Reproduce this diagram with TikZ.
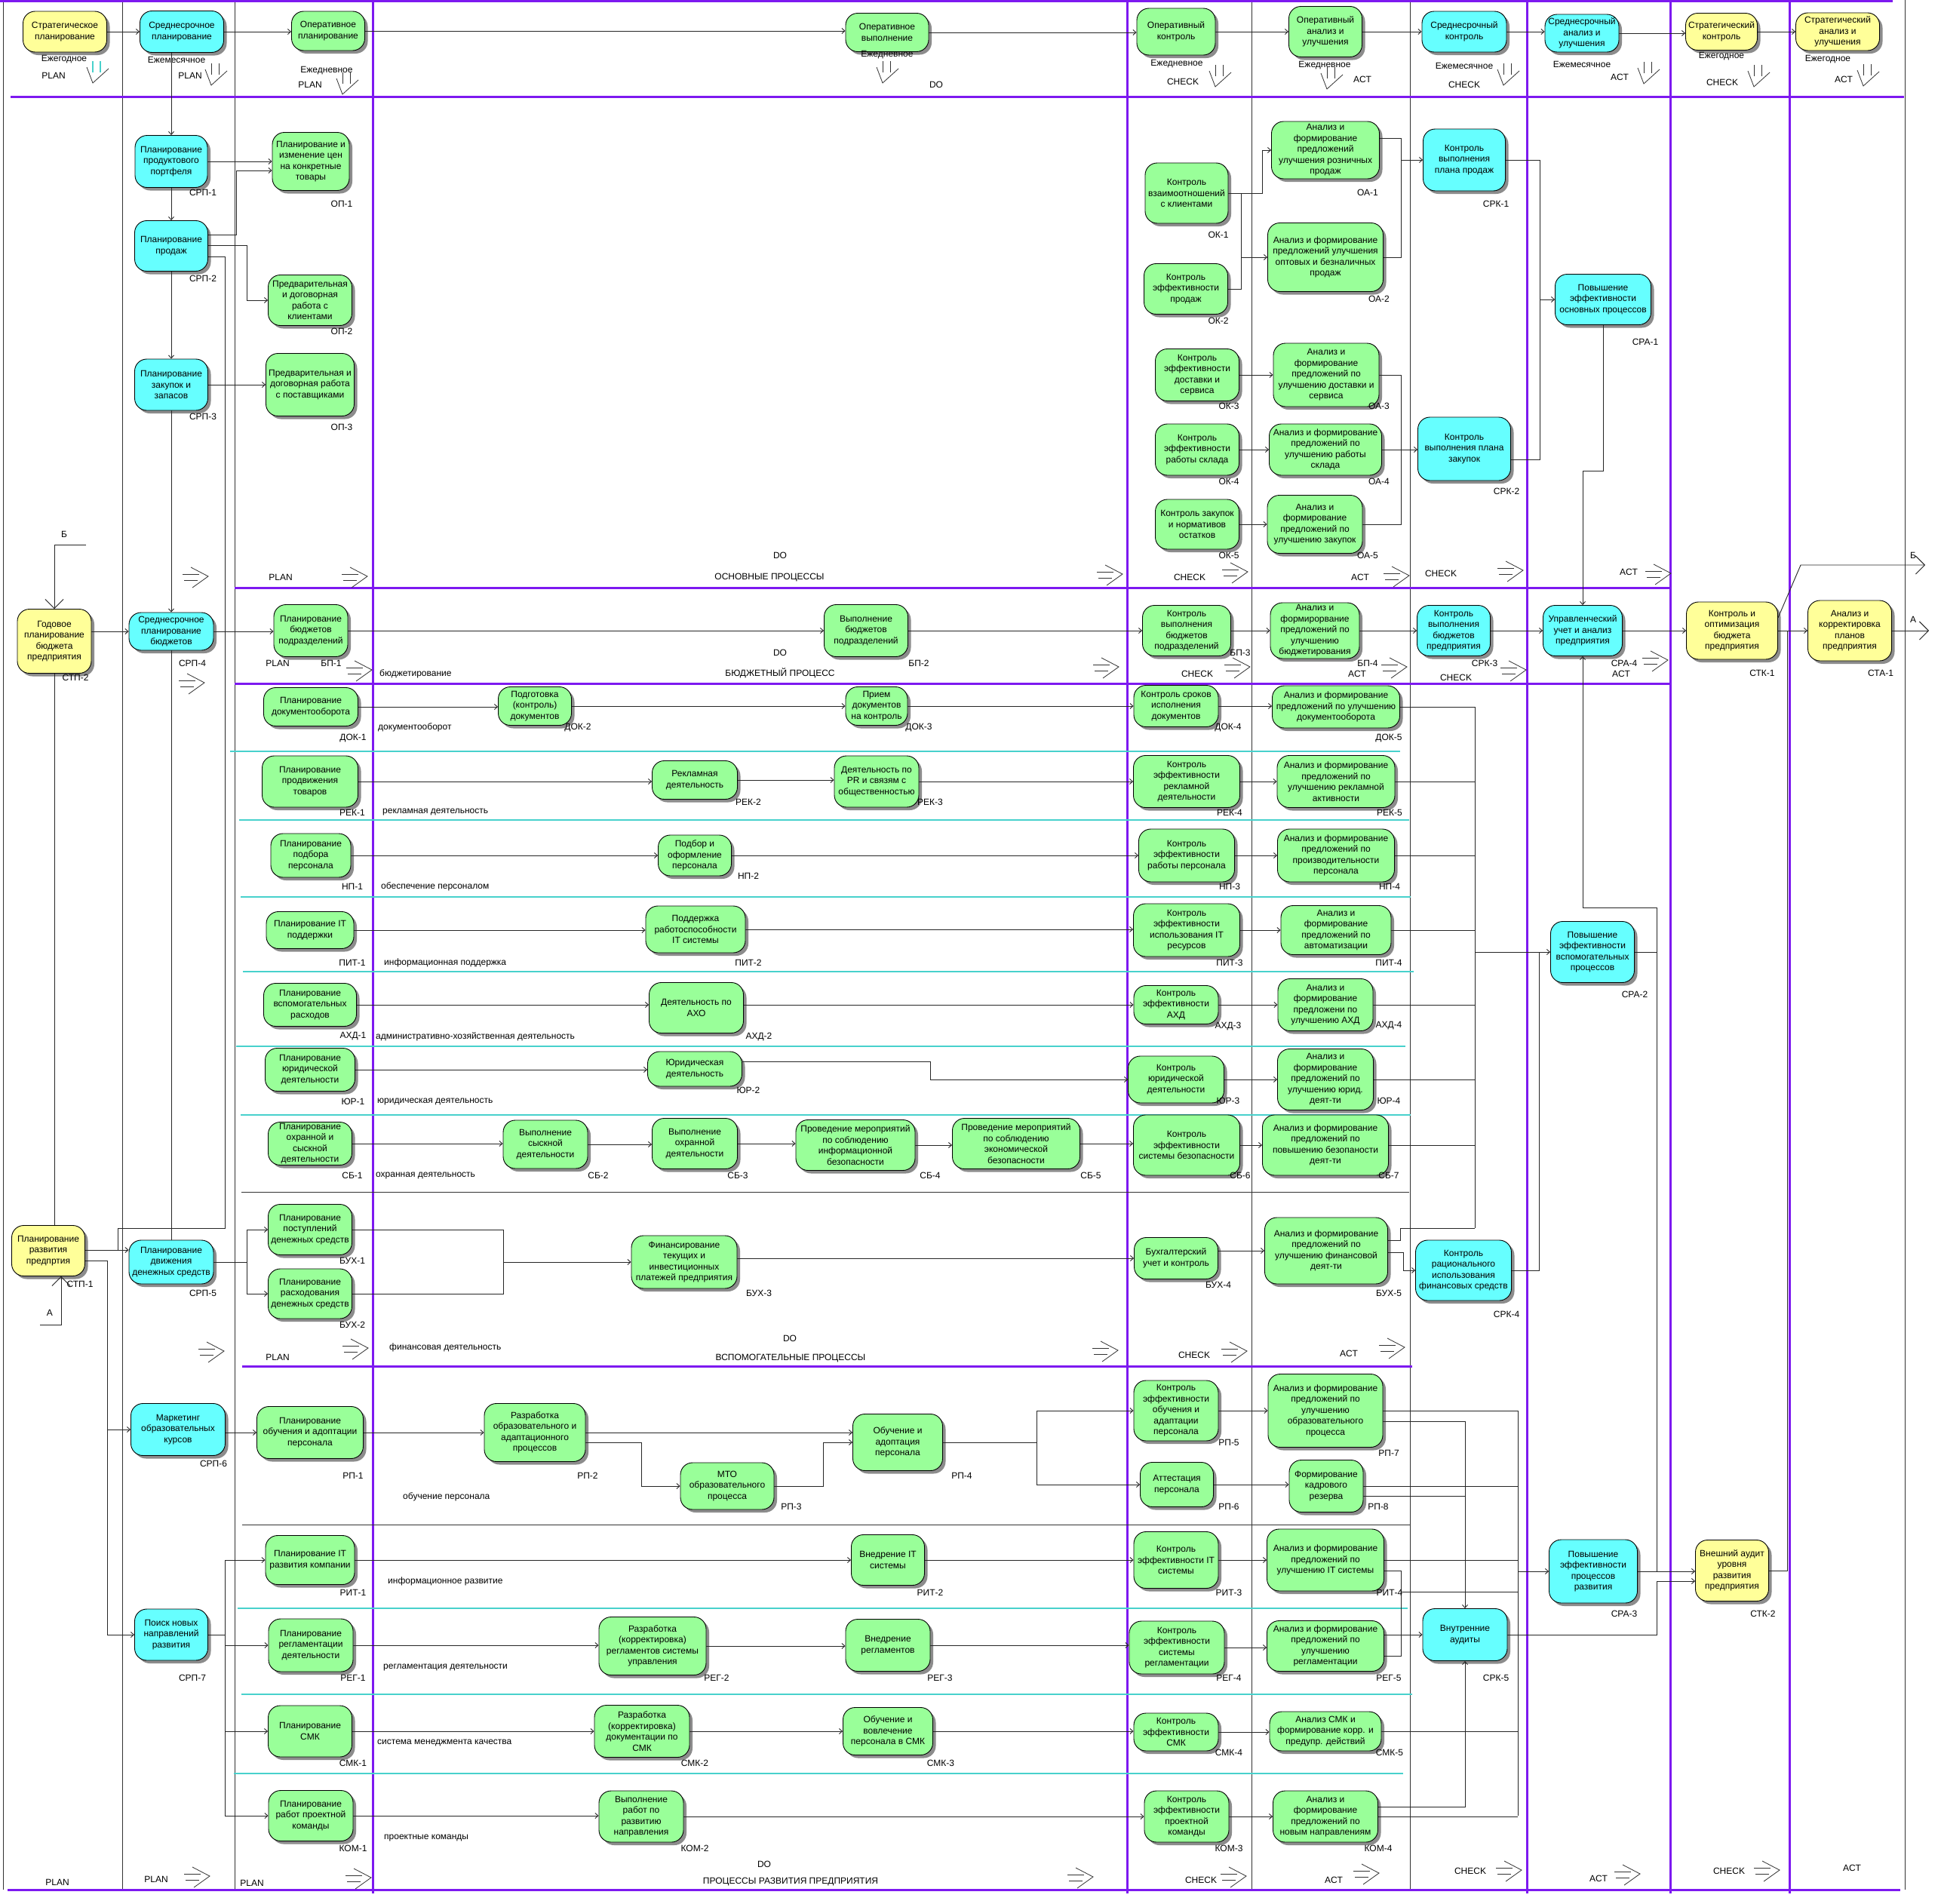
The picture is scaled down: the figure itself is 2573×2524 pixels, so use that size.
\documentclass[tikz,border=0pt]{standalone}
\usepackage{fontspec}
\setmainfont{Liberation Sans}
\usetikzlibrary{arrows.meta,shadows}
\definecolor{grn}{RGB}{153,255,153}
\definecolor{cyn}{RGB}{102,255,255}
\definecolor{ylw}{RGB}{255,255,153}
\definecolor{prp}{RGB}{125,25,240}
\definecolor{trq}{RGB}{72,209,204}
\newcommand\fs{\fontsize{12}{14.5}\selectfont}
\newcount\lbn
\newcommand\Bx[7]{\node[#1,minimum width=#5pt,minimum height=#6pt] (#2) at (#3,#4) {#7};}
\newcommand\Lb[3]{\global\advance\lbn by 1\relax\node[lbl] (t\the\lbn) at (#1,#2) {#3};}
\newcommand\LbW[3]{\global\advance\lbn by 1\relax\node[lbl,anchor=west] (t\the\lbn) at (#1,#2) {#3};}
\newcommand\Rarr[2]{\draw[icon] ({#1+11},{#2}) -- ({#1+34},{#2+12}) -- ({#1+13},{#2+27});
  \draw[icon] (#1,{#2+9}) -- ({#1+22},{#2+9}); \draw[icon] ({#1+2},{#2+17}) -- ({#1+20},{#2+17});}
\newcommand\Darr[2]{\draw[icon] (#1,{#2+8}) -- ({#1+8},{#2+29}) -- ({#1+29},{#2+10});
  \draw[icon] ({#1+8},#2) -- ({#1+8},{#2+15}); \draw[icon] ({#1+18},#2) -- ({#1+18},{#2+15});}
\begin{document}
\begin{tikzpicture}[x=1pt,y=-1pt,
  box/.style={rectangle,rounded corners=16pt,draw=black,line width=0.9pt,align=center,font=\fs,inner sep=1pt,
    drop shadow={shadow xshift=4pt,shadow yshift=-4pt,fill=black!45,opacity=1}},
  gn/.style={box,fill=grn}, cy/.style={box,fill=cyn}, yl/.style={box,fill=ylw},
  lbl/.style={font=\fs,inner sep=0pt},
  conn/.style={draw=black!85,line width=0.9pt},
  arr/.style={conn,-{Straight Barb[length=4pt,width=7pt]}},
  bigarr/.style={conn,-{Straight Barb[length=12pt,width=24pt]}},
  icon/.style={draw=black!80,line width=0.8pt},
  pl/.style={draw=prp,line width=3pt},
  tl/.style={draw=trq,line width=2.5pt},
  bl/.style={draw=black!80,line width=1pt}]
\fill[white] (0,0) rectangle (2573,2524);
\useasboundingbox (0,0) rectangle (2573,2524);
% ---------- grid ----------
\foreach \x in {4,162,311,1659,1869,2525} \draw[bl] (\x,0) -- (\x,2505);
\foreach \x in {494,1494,2024,2214,2372} \draw[pl] (\x,0) -- (\x,2510);
\draw[pl] (0,1) -- (2509,1);
\draw[pl] (14,128) -- (2524,128);
\draw[pl] (311,779) -- (2214,779);
\draw[pl] (311,906) -- (2214,906);
\draw[pl] (321,1811) -- (1872,1811);
\draw[pl] (10,2505) -- (2519,2505);
\draw[tl] (305,996) -- (1856,996);
\draw[tl] (317,1087) -- (1868,1087);
\draw[tl] (319,1189) -- (1870,1189);
\draw[tl] (322,1288) -- (1874,1288);
\draw[tl] (313,1387) -- (1863,1387);
\draw[tl] (319,1478) -- (1870,1478);
\draw[tl] (315,2132) -- (1866,2132);
\draw[tl] (320,2246) -- (1872,2246);
\draw[tl] (310,2351) -- (1860,2351);
\draw[bl] (320,1580) -- (1868,1580);
\draw[bl] (321,2021) -- (1870,2021);
% ---------- header ----------
\Bx{yl}{h0}{86}{42}{111}{54}{Стратегическое\\планирование}
\Bx{cy}{h1}{241}{42}{111}{55}{Среднесрочное\\планирование}
\Bx{gn}{h2}{435}{41}{97}{52}{Оперативное\\планирование}
\Bx{gn}{h3}{1176}{43}{110}{51}{Оперативное\\выполнение}
\Bx{gn}{h4}{1559}{42}{104}{62}{Оперативный\\контроль}
\Bx{gn}{h5}{1757}{42}{97}{67}{Оперативный\\анализ и\\улучшения}
\Bx{cy}{h6}{1941}{42}{112}{54}{Среднесрочный\\контроль}
\Bx{cy}{h7}{2097}{44}{98}{50}{Среднесрочный\\анализ и\\улучшения}
\Bx{yl}{h8}{2282}{42}{95}{49}{Стратегический\\контроль}
\Bx{yl}{h9}{2436}{42}{111}{50}{Стратегический\\анализ и\\улучшения}
\draw[arr] (h0.east) -- (h0.east -| h1.west);
\draw[arr] (h1.east) -- (h1.east -| h2.west);
\draw[arr] (h2.east) -- (h2.east -| h3.west);
\draw[arr] (h3.east) -- (h3.east -| h4.west);
\draw[arr] (h4.east) -- (h4.east -| h5.west);
\draw[arr] (h5.east) -- (h5.east -| h6.west);
\draw[arr] (h6.east) -- (h6.east -| h7.west);
\draw[arr] (h7.east) -- (h7.east -| h8.west);
\draw[arr] (h8.east) -- (h8.east -| h9.west);
\Lb{85}{79}{Ежегодное}\Lb{71}{100}{PLAN}
\draw[icon] (115,89) -- (123,110) -- (144,91);
\draw[draw=trq,line width=1.5pt] (123,81) -- (123,96); \draw[draw=trq,line width=1.5pt] (133,81) -- (133,96);
\Lb{234}{79}{Ежемесячное}\Lb{252}{100}{PLAN}\Darr{272}{84}
\Lb{433}{94}{Ежедневное}\Lb{411}{112}{PLAN}\Darr{446}{96}
\Lb{1176}{73}{Ежедневное}\Darr{1162}{81}\Lb{1241}{112}{DO}
\Lb{1560}{85}{Ежедневное}\Lb{1568}{108}{CHECK}\Darr{1603}{86}
\Lb{1756}{87}{Ежедневное}\Lb{1806}{105}{ACT}\Darr{1751}{89}
\Lb{1941}{87}{Ежемесячное}\Lb{1941}{112}{CHECK}\Darr{1985}{84}
\Lb{2097}{85}{Ежемесячное}\Lb{2147}{102}{ACT}\Darr{2171}{82}
\Lb{2282}{75}{Ежегодное}\Lb{2283}{109}{CHECK}\Darr{2317}{86}
\Lb{2423}{79}{Ежегодное}\Lb{2444}{105}{ACT}\Darr{2462}{85}
% ---------- main processes ----------
\Bx{cy}{srp1}{227}{214}{96}{69}{Планирование\\продуктового\\портфеля}
\Bx{cy}{srp2}{227}{326}{97}{67}{Планирование\\продаж}
\Bx{cy}{srp3}{227}{510}{97}{68}{Планирование\\закупок и\\запасов}
\Bx{gn}{op1}{412}{214}{102}{77}{Планирование и\\изменение цен\\на конкретные\\товары}
\Bx{gn}{op2}{411}{398}{111}{67}{Предварительная\\и договорная\\работа с\\клиентами}
\Bx{gn}{op3}{411}{510}{117}{83}{Предварительная и\\договорная работа\\с поставщиками}
\Bx{gn}{ok1}{1573}{256}{110}{80}{Контроль\\взаимоотношений\\с клиентами}
\Bx{gn}{ok2}{1572}{383}{111}{67}{Контроль\\эффективности\\продаж}
\Bx{gn}{ok3}{1587}{497}{111}{69}{Контроль\\эффективности\\доставки и\\сервиса}
\Bx{gn}{ok4}{1587}{596}{111}{68}{Контроль\\эффективности\\работы склада}
\Bx{gn}{ok5}{1587}{695}{111}{66}{Контроль закупок\\и нормативов\\остатков}
\Bx{gn}{oa1}{1757}{199}{143}{76}{Анализ и\\формирование\\предложений\\улучшения розничных\\продаж}
\Bx{gn}{oa2}{1757}{341}{153}{91}{Анализ и формирование\\предложений улучшения\\оптовых и безналичных\\продаж}
\Bx{gn}{oa3}{1758}{497}{140}{84}{Анализ и\\формирование\\предложений по\\улучшению доставки и\\сервиса}
\Bx{gn}{oa4}{1757}{596}{149}{68}{Анализ и формирование\\предложений по\\улучшению работы\\склада}
\Bx{gn}{oa5}{1743}{695}{126}{77}{Анализ и\\формирование\\предложений по\\улучшению закупок}
\Bx{cy}{srk1}{1941}{212}{109}{82}{Контроль\\выполнения\\плана продаж}
\Bx{cy}{srk2}{1941}{595}{123}{84}{Контроль\\выполнения плана\\закупок}
\Bx{cy}{sra1}{2125}{397}{127}{67}{Повышение\\эффективности\\основных процессов}
% ---------- budget ----------
\Bx{yl}{stp2}{72}{850}{98}{85}{Годовое\\планирование\\бюджета\\предприятия}
\Bx{cy}{srp4}{227}{837}{112}{50}{Среднесрочное\\планирование\\бюджетов}
\Bx{gn}{bp1}{412}{836}{98}{69}{Планирование\\бюджетов\\подразделений}
\Bx{gn}{bp2}{1148}{836}{111}{69}{Выполнение\\бюджетов\\подразделений}
\Bx{gn}{bp3}{1573}{836}{117}{67}{Контроль\\выполнения\\бюджетов\\подразделений}
\Bx{gn}{bp4}{1743}{836}{118}{74}{Анализ и\\формирорвание\\предложений по\\улучшению\\бюджетирования}
\Bx{cy}{srk3}{1927}{836}{97}{67}{Контроль\\выполнения\\бюджетов\\предприятия}
\Bx{cy}{sra4}{2098}{836}{105}{67}{Управленческий\\учет и анализ\\предприятия}
\Bx{yl}{stk1}{2296}{836}{121}{76}{Контроль и\\оптимизация\\бюджета\\предприятия}
\Bx{yl}{sta1}{2452}{836}{111}{80}{Анализ и\\корректировка\\планов\\предприятия}
% ---------- auxiliary ----------
\Bx{gn}{dok1}{412}{937}{125}{51}{Планирование\\документооборота}
\Bx{gn}{dok2}{709}{936}{97}{51}{Подготовка\\(контроль)\\документов}
\Bx{gn}{dok3}{1162}{936}{82}{51}{Прием\\документов\\на контроль}
\Bx{gn}{dok4}{1559}{936}{112}{55}{Контроль сроков\\исполнения\\документов}
\Bx{gn}{dok5}{1771}{937}{169}{56}{Анализ и формирование\\предложений по улучшению\\документооборота}
\Bx{gn}{rek1}{411}{1036}{127}{68}{Планирование\\продвижения\\товаров}
\Bx{gn}{rek2}{921}{1034}{113}{51}{Рекламная\\деятельность}
\Bx{gn}{rek3}{1162}{1036}{112}{68}{Деятельность по\\PR и связям с\\общественностью}
\Bx{gn}{rek4}{1573}{1036}{141}{69}{Контроль\\эффективности\\рекламной\\деятельности}
\Bx{gn}{rek5}{1771}{1036}{156}{69}{Анализ и формирование\\предложений по\\улучшению рекламной\\активности}
\Bx{gn}{np1}{412}{1134}{106}{58}{Планирование\\подбора\\персонала}
\Bx{gn}{np2}{921}{1134}{97}{54}{Подбор и\\оформление\\персонала}
\Bx{gn}{np3}{1573}{1134}{127}{70}{Контроль\\эффективности\\работы персонала}
\Bx{gn}{np4}{1771}{1134}{155}{70}{Анализ и формирование\\предложений по\\производительности\\персонала}
\Bx{gn}{pit1}{411}{1233}{116}{49}{Планирование IT\\поддержки}
\Bx{gn}{pit2}{922}{1232}{132}{62}{Поддержка\\работоспособности\\IT системы}
\Bx{gn}{pit3}{1573}{1233}{141}{70}{Контроль\\эффективности\\использования IT\\ресурсов}
\Bx{gn}{pit4}{1771}{1233}{146}{65}{Анализ и\\формирование\\предложений по\\автоматизации}
\Bx{gn}{ahd1}{411}{1332}{123}{57}{Планирование\\вспомогательных\\расходов}
\Bx{gn}{ahd2}{923}{1336}{125}{67}{Деятельность по\\АХО}
\Bx{gn}{ahd3}{1559}{1332}{112}{51}{Контроль\\эффективности\\АХД}
\Bx{gn}{ahd4}{1757}{1332}{126}{69}{Анализ и\\формирование\\предложени по\\улучшению АХД}
\Bx{gn}{ur1}{411}{1418}{119}{57}{Планирование\\юридической\\деятельности}
\Bx{gn}{ur2}{921}{1417}{125}{46}{Юридическая\\деятельность}
\Bx{gn}{ur3}{1559}{1431}{127}{62}{Контроль\\юридической\\деятельности}
\Bx{gn}{ur4}{1757}{1431}{127}{81}{Анализ и\\формирование\\предложений по\\улучшению юрид.\\деят-ти}
\Bx{gn}{sb1}{411}{1516}{111}{57}{Планирование\\охранной и\\сыскной\\деятельности}
\Bx{gn}{sb2}{723}{1517}{112}{64}{Выполнение\\сыскной\\деятельности}
\Bx{gn}{sb3}{921}{1516}{113}{67}{Выполнение\\охранной\\деятельности}
\Bx{gn}{sb4}{1134}{1518}{158}{67}{Проведение мероприятий\\по соблюдению\\информационной\\безопасности}
\Bx{gn}{sb5}{1347}{1516}{169}{67}{Проведение мероприятий\\по соблюдению\\экономической\\безопасности}
\Bx{gn}{sb6}{1573}{1518}{141}{80}{Контроль\\эффективности\\системы безопасности}
\Bx{gn}{sb7}{1757}{1518}{167}{80}{Анализ и формирование\\предложений по\\повышению безопаности\\деят-ти}
\Bx{yl}{stp1}{64}{1658}{97}{67}{Планирование\\развития\\предпртия}
\Bx{cy}{srp5}{227}{1673}{112}{58}{Планирование\\движения\\денежных средств}
\Bx{gn}{buh1}{411}{1630}{111}{67}{Планирование\\поступлений\\денежных средств}
\Bx{gn}{buh2}{411}{1715}{111}{66}{Планирование\\расходования\\денежных средств}
\Bx{gn}{buh3}{907}{1673}{140}{70}{Финансирование\\текущих и\\инвестиционных\\платежей предприятия}
\Bx{gn}{buh4}{1559}{1668}{111}{55}{Бухгалтерский\\учет и контроль}
\Bx{gn}{buh5}{1758}{1658}{163}{88}{Анализ и формирование\\предложений по\\улучшению финансовой\\деят-ти}
\Bx{cy}{srk4}{1940}{1684}{127}{80}{Контроль\\рационального\\использования\\финансовых средств}
\Bx{cy}{sra2}{2111}{1262}{111}{81}{Повышение\\эффективности\\вспомогательных\\процессов}
% ---------- development ----------
\Bx{cy}{srp6}{236}{1895}{125}{69}{Маркетинг\\образовательных\\курсов}
\Bx{cy}{srp7}{227}{2167}{97}{68}{Поиск новых\\направлений\\развития}
\Bx{gn}{rp1}{411}{1899}{141}{69}{Планирование\\обучения и адоптации\\персонала}
\Bx{gn}{rp2}{709}{1899}{134}{77}{Разработка\\образовательного и\\адаптационного\\процессов}
\Bx{gn}{rp3}{964}{1970}{124}{62}{МТО\\образовательного\\процесса}
\Bx{gn}{rp4}{1190}{1912}{119}{75}{Обучение и\\адоптация\\персонала}
\Bx{gn}{rp5}{1559}{1870}{112}{80}{Контроль\\эффективности\\обучения и\\адаптации\\персонала}
\Bx{gn}{rp6}{1560}{1968}{97}{59}{Аттестация\\персонала}
\Bx{gn}{rp7}{1757}{1870}{152}{97}{Анализ и формирование\\предложений по\\улучшению\\образовательного\\процесса}
\Bx{gn}{rp8}{1758}{1970}{98}{69}{Формирование\\кадрового\\резерва}
\Bx{gn}{rit1}{411}{2068}{118}{65}{Планирование IT\\развития компании}
\Bx{gn}{rit2}{1177}{2068}{97}{67}{Внедрение IT\\системы}
\Bx{gn}{rit3}{1559}{2068}{112}{75}{Контроль\\эффективности IT\\системы}
\Bx{gn}{rit4}{1757}{2068}{155}{82}{Анализ и формирование\\предложений по\\улучшению IT системы}
\Bx{gn}{reg1}{412}{2181}{112}{70}{Планирование\\регламентации\\деятельности}
\Bx{gn}{reg2}{865}{2182}{142}{77}{Разработка\\(корректировка)\\регламентов системы\\управления}
\Bx{gn}{reg3}{1177}{2181}{112}{69}{Внедрение\\регламентов}
\Bx{gn}{reg4}{1560}{2184}{126}{70}{Контроль\\эффективности\\системы\\регламентации}
\Bx{gn}{reg5}{1757}{2182}{155}{67}{Анализ и формирование\\предложений по\\улучшению\\регламентации}
\Bx{gn}{smk1}{411}{2295}{111}{68}{Планирование\\СМК}
\Bx{gn}{smk2}{851}{2295}{126}{69}{Разработка\\(корректировка)\\документации по\\СМК}
\Bx{gn}{smk3}{1177}{2295}{119}{63}{Обучение и\\вовлечение\\персонала в СМК}
\Bx{gn}{smk4}{1559}{2296}{112}{50}{Контроль\\эффективности\\СМК}
\Bx{gn}{smk5}{1757}{2295}{148}{52}{Анализ СМК и\\формирование корр. и\\предупр. действий}
\Bx{gn}{kom1}{412}{2407}{112}{67}{Планирование\\работ проектной\\команды}
\Bx{gn}{kom2}{850}{2408}{112}{68}{Выполнение\\работ по\\развитию\\направления}
\Bx{gn}{kom3}{1573}{2408}{112}{68}{Контроль\\эффективности\\проектной\\команды}
\Bx{gn}{kom4}{1757}{2408}{139}{68}{Анализ и\\формирование\\предложений по\\новым направлениям}
\Bx{cy}{srk5}{1942}{2167}{112}{69}{Внутренние\\аудиты}
\Bx{cy}{sra3}{2112}{2083}{117}{84}{Повышение\\эффективности\\процессов\\развития}
\Bx{yl}{stk2}{2296}{2082}{97}{81}{Внешний аудит\\уровня\\развития\\предприятия}
% ---------- connectors: main ----------
\draw[arr] (srp1.north |- h1.south) -- (srp1.north);
\draw[arr] (srp1.south) -- (srp2.north);
\draw[arr] (srp2.south) -- (srp3.north);
\draw[arr] (srp3.south) -- (srp4.north);
\draw[conn] (srp4.south) -- (srp5.north);
\draw[arr] (srp1.east) -- (srp1.east -| op1.west);
\draw[arr] (srp2.east |- 0,311) -- (313,311) |- (op1.west |- 0,226);
\draw[arr] (srp2.east |- 0,325) -| (327,398) -- (op2.west);
\draw[arr] (srp3.east) -- (srp3.east -| op3.west);
\draw[conn] (srp2.east |- 0,340) -- (298,340) -- (298,1628) -- (156,1628) -- (156,1657);
\draw[arr] (ok1.east) -- (1673,256) |- (oa1.west);
\draw[conn] (ok2.east) -- (1645,383) -- (1645,256);
\draw[arr] (1645,341) -- (oa2.west);
\draw[conn] (oa1.east |- 0,183) -- (1857,183) -- (1857,341) -- (oa2.east);
\draw[arr] (1857,212) -- (srk1.west);
\draw[arr] (ok3.east) -- (ok3.east -| oa3.west);
\draw[arr] (ok4.east) -- (ok4.east -| oa4.west);
\draw[arr] (ok5.east) -- (ok5.east -| oa5.west);
\draw[conn] (oa3.east) -- (1857,497) -- (1857,695) -- (oa5.east);
\draw[arr] (oa4.east) -- (oa4.east -| srk2.west);
\draw[conn] (srk1.east) -- (2041,212) -- (2041,609) -- (srk2.east |- 0,609);
\draw[arr] (2041,397) -- (sra1.west);
\draw[arr] (sra1.south) -- (sra1.south |- 0,624) -| (sra4.north);
% ---------- connectors: budget ----------
\coordinate (bin) at (114,722);
\draw[bigarr] (bin) -- (72,722) -- (stp2.north);
\draw[conn] (stp2.south |- stp1.north) -- (stp2.south);
\draw[arr] (stp2.east |- srp4.west) -- (srp4.west);
\draw[arr] (srp4.east) -- (srp4.east -| bp1.west);
\draw[arr] (bp1.east) -- (bp1.east -| bp2.west);
\draw[arr] (bp2.east) -- (bp2.east -| bp3.west);
\draw[arr] (bp3.east) -- (bp3.east -| bp4.west);
\draw[arr] (bp4.east) -- (bp4.east -| srk3.west);
\draw[arr] (srk3.east) -- (srk3.east -| sra4.west);
\draw[arr] (sra4.east) -- (sra4.east -| stk1.west);
\draw[arr] (stk1.east) -- (stk1.east -| sta1.west);
\coordinate (aout) at (2557,836);
\draw[bigarr] (sta1.east) -- (aout);
\coordinate (bout) at (2552,749);
\draw[bigarr] ([yshift=17pt]stk1.east) -- (2387,749) -- (bout);
\draw[conn] (stk2.east) -- (2369,2082) -- (2369,836);
% ---------- connectors: auxiliary ----------
\draw[arr] (dok1.east) -- (dok1.east -| dok2.west);
\draw[arr] (dok2.east) -- (dok2.east -| dok3.west);
\draw[arr] (dok3.east) -- (dok3.east -| dok4.west);
\draw[arr] (dok4.east) -- (dok4.east -| dok5.west);
\draw[arr] (rek1.east) -- (rek1.east -| rek2.west);
\draw[arr] (rek2.east) -- (rek2.east -| rek3.west);
\draw[arr] (rek3.east) -- (rek3.east -| rek4.west);
\draw[arr] (rek4.east) -- (rek4.east -| rek5.west);
\draw[arr] (np1.east) -- (np1.east -| np2.west);
\draw[arr] (np2.east) -- (np2.east -| np3.west);
\draw[arr] (np3.east) -- (np3.east -| np4.west);
\draw[arr] (pit1.east) -- (pit1.east -| pit2.west);
\draw[arr] (pit2.east) -- (pit2.east -| pit3.west);
\draw[arr] (pit3.east) -- (pit3.east -| pit4.west);
\draw[arr] (ahd1.east) -- (ahd1.east -| ahd2.west);
\draw[arr] (ahd2.east |- ahd3.west) -- (ahd3.west);
\draw[arr] (ahd3.east) -- (ahd3.east -| ahd4.west);
\draw[arr] (ur1.east) -- (ur1.east -| ur2.west);
\draw[arr] (ur2.east |- 0,1407) -- (1233,1407) |- (ur3.west);
\draw[arr] (ur3.east) -- (ur3.east -| ur4.west);
\draw[arr] (sb1.east) -- (sb1.east -| sb2.west);
\draw[arr] (sb2.east) -- (sb2.east -| sb3.west);
\draw[arr] (sb3.east) -- (sb3.east -| sb4.west);
\draw[arr] (sb4.east) -- (sb4.east -| sb5.west);
\draw[arr] (sb5.east) -- (sb5.east -| sb6.west);
\draw[arr] (sb6.east) -- (sb6.east -| sb7.west);
\draw[conn] (1955,937) -- (1955,1628);
\foreach \n in {dok5,rek5,np4,pit4,ahd4,ur4,sb7} \draw[conn] (\n.east) -- (\n.east -| 1955,0);
\draw[arr] (1955,1262) -- (sra2.west);
\draw[arr] (stp1.east |- 0,1657) -- (srp5.west |- 0,1657);
\draw[arr] (srp5.east) -- (327,1673) |- (buh1.west);
\draw[arr] (327,1673) |- (buh2.west);
\draw[conn] (buh1.east) -- (667,1630) -- (667,1715) -- (buh2.east);
\draw[arr] (667,1673) -- (buh3.west);
\draw[arr] (buh3.east |- buh4.west) -- (buh4.west);
\draw[arr] (buh4.east |- buh5.west) -- (buh5.west);
\draw[conn] (buh5.east |- 0,1644) -- (1856,1644) -- (1856,1628) -- (1955,1628);
\draw[arr] (buh5.east |- 0,1660) -- (1860,1660) |- (srk4.west);
\draw[conn] (srk4.east) -| (2040,1262);
\draw[conn] (sra2.east) -- (2196,1262);
\draw[arr] (sra3.east) -- (2196,2083) -- (2196,1203) -| (sra4.south);
% ---------- connectors: development ----------
\draw[arr] (stp1.east |- 0,1671) -- (142,1671) |- (srp7.west);
\draw[arr] (142,1895) -- (srp6.west);
\draw[arr] (srp6.east |- rp1.west) -- (rp1.west);
\draw[arr] (rp1.east) -- (rp1.east -| rp2.west);
\draw[arr] (rp2.east) -- (rp2.east -| rp4.west);
\draw[arr] (rp2.east |- 0,1912) -- (850,1912) |- (rp3.west);
\draw[arr] (rp3.east) -- (1091,1970) |- (rp4.west);
\draw[arr] (rp4.east) -- (1374,1912) |- (rp5.west);
\draw[arr] (1374,1912) |- (rp6.west);
\draw[arr] (rp5.east) -- (rp5.east -| rp7.west);
\draw[arr] (rp6.east) -- (rp6.east -| rp8.west);
\draw[conn] (rp7.east) -- (2012,1870) -- (2012,2407);
\draw[arr] (rp7.east |- 0,1884) -| (srk5.north);
\draw[conn] (rp8.east) -- (rp8.east -| 2012,0);
\draw[conn] (rp8.east |- 0,1983) -- (1942,1983);
\draw[arr] (2012,2083) -- (sra3.west);
\draw[conn] (srp7.east) -- (298,2167);
\draw[conn] (298,2068) -- (298,2407);
\draw[arr] (298,2068) -- (rit1.west);
\draw[arr] (298,2181) -- (reg1.west);
\draw[arr] (298,2295) -- (smk1.west);
\draw[arr] (298,2407) -- (kom1.west);
\draw[arr] (rit1.east) -- (rit1.east -| rit2.west);
\draw[arr] (rit2.east) -- (rit2.east -| rit3.west);
\draw[arr] (rit3.east) -- (rit3.east -| rit4.west);
\draw[conn] (rit4.east) -- (rit4.east -| 2012,0);
\draw[conn] (rit4.east |- 0,2082) -- (1857,2082) -- (1857,2195) -- (reg5.east |- 0,2195);
\draw[conn] (1857,2110) -- (2012,2110);
\draw[arr] (reg5.east |- 0,2167) -- (srk5.west);
\draw[arr] (reg1.east) -- (reg1.east -| reg2.west);
\draw[arr] (reg2.east) -- (reg2.east -| reg3.west);
\draw[arr] (reg3.east) -- (reg3.east -| reg4.west);
\draw[arr] (reg4.east) -- (reg4.east -| reg5.west);
\draw[arr] (smk1.east) -- (smk1.east -| smk2.west);
\draw[arr] (smk2.east) -- (smk2.east -| smk3.west);
\draw[arr] (smk3.east) -- (smk3.east -| smk4.west);
\draw[arr] (smk4.east) -- (smk4.east -| smk5.west);
\draw[conn] (smk5.east) -- (smk5.east -| 2012,0);
\draw[arr] (kom1.east) -- (kom1.east -| kom2.west);
\draw[arr] (kom2.east) -- (kom2.east -| kom3.west);
\draw[arr] (kom3.east) -- (kom3.east -| kom4.west);
\draw[conn] (kom4.east) -- (kom4.east -| 2012,0);
\draw[arr] (kom4.east |- 0,2395) -| (srk5.south);
\draw[arr] (sra3.east) -- (sra3.east -| stk2.west);
\draw[arr] (srk5.east) -- (2196,2167) |- ([yshift=-14pt]stk2.west);
% ---------- in/out arrows ----------
\coordinate (ain) at (53,1756);
\draw[bigarr] (ain) -- (81,1756) -- (stp1.south -| 81,0);
% ---------- code labels ----------
\Lb{269}{255}{СРП-1}\Lb{269}{369}{СРП-2}\Lb{269}{552}{СРП-3}
\Lb{453}{270}{ОП-1}\Lb{453}{439}{ОП-2}\Lb{453}{566}{ОП-3}
\Lb{1615}{311}{ОК-1}\Lb{1615}{425}{ОК-2}\Lb{1629}{538}{ОК-3}\Lb{1629}{638}{ОК-4}\Lb{1629}{736}{ОК-5}
\Lb{1813}{255}{ОА-1}\Lb{1828}{396}{ОА-2}\Lb{1828}{538}{ОА-3}\Lb{1828}{638}{ОА-4}\Lb{1813}{736}{ОА-5}
\Lb{1983}{270}{СРК-1}\Lb{1997}{651}{СРК-2}\Lb{2181}{453}{СРА-1}
\Lb{100}{898}{СТП-2}\Lb{255}{879}{СРП-4}\Lb{439}{879}{БП-1}\Lb{1218}{879}{БП-2}\Lb{1644}{865}{БП-3}
\Lb{1813}{879}{БП-4}\Lb{1968}{879}{СРК-3}\Lb{2153}{879}{СРА-4}\Lb{2336}{892}{СТК-1}\Lb{2493}{892}{СТА-1}
\Lb{468}{978}{ДОК-1}\Lb{766}{964}{ДОК-2}\Lb{1218}{964}{ДОК-3}\Lb{1628}{964}{ДОК-4}\Lb{1841}{978}{ДОК-5}
\Lb{467}{1077}{РЕК-1}\Lb{992}{1063}{РЕК-2}\Lb{1233}{1063}{РЕК-3}\Lb{1630}{1077}{РЕК-4}\Lb{1842}{1077}{РЕК-5}
\Lb{467}{1175}{НП-1}\Lb{992}{1161}{НП-2}\Lb{1630}{1175}{НП-3}\Lb{1842}{1175}{НП-4}
\Lb{467}{1276}{ПИТ-1}\Lb{992}{1276}{ПИТ-2}\Lb{1630}{1276}{ПИТ-3}\Lb{1841}{1276}{ПИТ-4}
\Lb{468}{1374}{АХД-1}\Lb{1006}{1374}{АХД-2}\Lb{1628}{1360}{АХД-3}\Lb{1841}{1360}{АХД-4}
\Lb{468}{1460}{ЮР-1}\Lb{992}{1445}{ЮР-2}\Lb{1628}{1459}{ЮР-3}\Lb{1841}{1459}{ЮР-4}
\Lb{467}{1558}{СБ-1}\Lb{793}{1558}{СБ-2}\Lb{978}{1558}{СБ-3}\Lb{1233}{1558}{СБ-4}\Lb{1446}{1558}{СБ-5}\Lb{1644}{1558}{СБ-6}\Lb{1841}{1558}{СБ-7}
\Lb{106}{1702}{СТП-1}\Lb{269}{1714}{СРП-5}\Lb{467}{1671}{БУХ-1}\Lb{467}{1756}{БУХ-2}\Lb{1006}{1714}{БУХ-3}
\Lb{1615}{1703}{БУХ-4}\Lb{1841}{1714}{БУХ-5}\Lb{1997}{1742}{СРК-4}\Lb{2167}{1318}{СРА-2}
\Lb{283}{1940}{СРП-6}\Lb{255}{2224}{СРП-7}\Lb{468}{1956}{РП-1}\Lb{779}{1956}{РП-2}\Lb{1049}{1997}{РП-3}\Lb{1275}{1956}{РП-4}
\Lb{1629}{1912}{РП-5}\Lb{1629}{1997}{РП-6}\Lb{1841}{1926}{РП-7}\Lb{1827}{1997}{РП-8}
\Lb{468}{2111}{РИТ-1}\Lb{1233}{2111}{РИТ-2}\Lb{1629}{2111}{РИТ-3}\Lb{1842}{2111}{РИТ-4}
\Lb{468}{2224}{РЕГ-1}\Lb{950}{2224}{РЕГ-2}\Lb{1246}{2224}{РЕГ-3}\Lb{1629}{2224}{РЕГ-4}\Lb{1841}{2224}{РЕГ-5}
\Lb{468}{2337}{СМК-1}\Lb{921}{2337}{СМК-2}\Lb{1247}{2337}{СМК-3}\Lb{1629}{2323}{СМК-4}\Lb{1842}{2323}{СМК-5}
\Lb{468}{2450}{КОМ-1}\Lb{921}{2450}{КОМ-2}\Lb{1629}{2450}{КОМ-3}\Lb{1827}{2450}{КОМ-4}
\Lb{1983}{2224}{СРК-5}\Lb{2153}{2139}{СРА-3}\Lb{2337}{2139}{СТК-2}
\Lb{85}{708}{Б}\Lb{2536}{821}{А}\Lb{2536}{736}{Б}\Lb{66}{1740}{А}
% ---------- lane and section labels ----------
\LbW{503}{893}{бюджетирование}
\LbW{501}{964}{документооборот}
\LbW{507}{1077}{рекламная деятельность}
\LbW{505}{1175}{обеспечение персоналом}
\LbW{509}{1276}{информационная поддержка}
\LbW{498}{1374}{административно-хозяйственная деятельность}
\LbW{500}{1460}{юридическая деятельность}
\LbW{498}{1558}{охранная деятельность}
\LbW{516}{1786}{финансовая деятельность}
\LbW{534}{1984}{обучение персонала}
\LbW{514}{2096}{информационное развитие}
\LbW{508}{2210}{регламентация деятельности}
\LbW{500}{2310}{система менеджмента качества}
\LbW{509}{2436}{проектные команды}
\Lb{1034}{736}{DO}\Lb{1020}{765}{ОСНОВНЫЕ ПРОЦЕССЫ}
\Lb{372}{765}{PLAN}\Lb{1577}{765}{CHECK}\Lb{1803}{765}{ACT}\Lb{1910}{760}{CHECK}\Lb{2159}{758}{ACT}
\Rarr{242}{752}\Rarr{453}{752}\Rarr{1454}{749}\Rarr{1620}{746}\Rarr{1834}{751}\Rarr{1985}{744}\Rarr{2181}{748}
\Lb{368}{879}{PLAN}\Lb{1034}{865}{DO}\Lb{1034}{892}{БЮДЖЕТНЫЙ ПРОЦЕСС}
\Lb{1587}{893}{CHECK}\Lb{1799}{893}{ACT}\Lb{1930}{898}{CHECK}\Lb{2149}{893}{ACT}
\Rarr{237}{893}\Rarr{459}{876}\Rarr{1449}{872}\Rarr{1623}{872}\Rarr{1831}{872}\Rarr{1989}{876}\Rarr{2177}{863}
\Lb{368}{1799}{PLAN}\Lb{1047}{1774}{DO}\Lb{1048}{1800}{ВСПОМОГАТЕЛЬНЫЕ ПРОЦЕССЫ}
\Lb{1583}{1796}{CHECK}\Lb{1788}{1794}{ACT}
\Rarr{263}{1779}\Rarr{454}{1775}\Rarr{1448}{1778}\Rarr{1619}{1779}\Rarr{1828}{1774}
\Lb{76}{2495}{PLAN}\Lb{207}{2491}{PLAN}\Rarr{244}{2475}\Lb{334}{2496}{PLAN}\Rarr{458}{2477}
\Lb{1013}{2471}{DO}\Lb{1048}{2494}{ПРОЦЕССЫ РАЗВИТИЯ ПРЕДПРИЯТИЯ}\Rarr{1415}{2476}
\Lb{1592}{2492}{CHECK}\Rarr{1618}{2475}\Lb{1768}{2492}{ACT}\Rarr{1794}{2471}
\Lb{1949}{2480}{CHECK}\Rarr{1983}{2467}\Lb{2119}{2490}{ACT}\Rarr{2140}{2472}
\Lb{2292}{2480}{CHECK}\Rarr{2325}{2467}\Lb{2455}{2476}{ACT}
\end{tikzpicture}
\end{document}
